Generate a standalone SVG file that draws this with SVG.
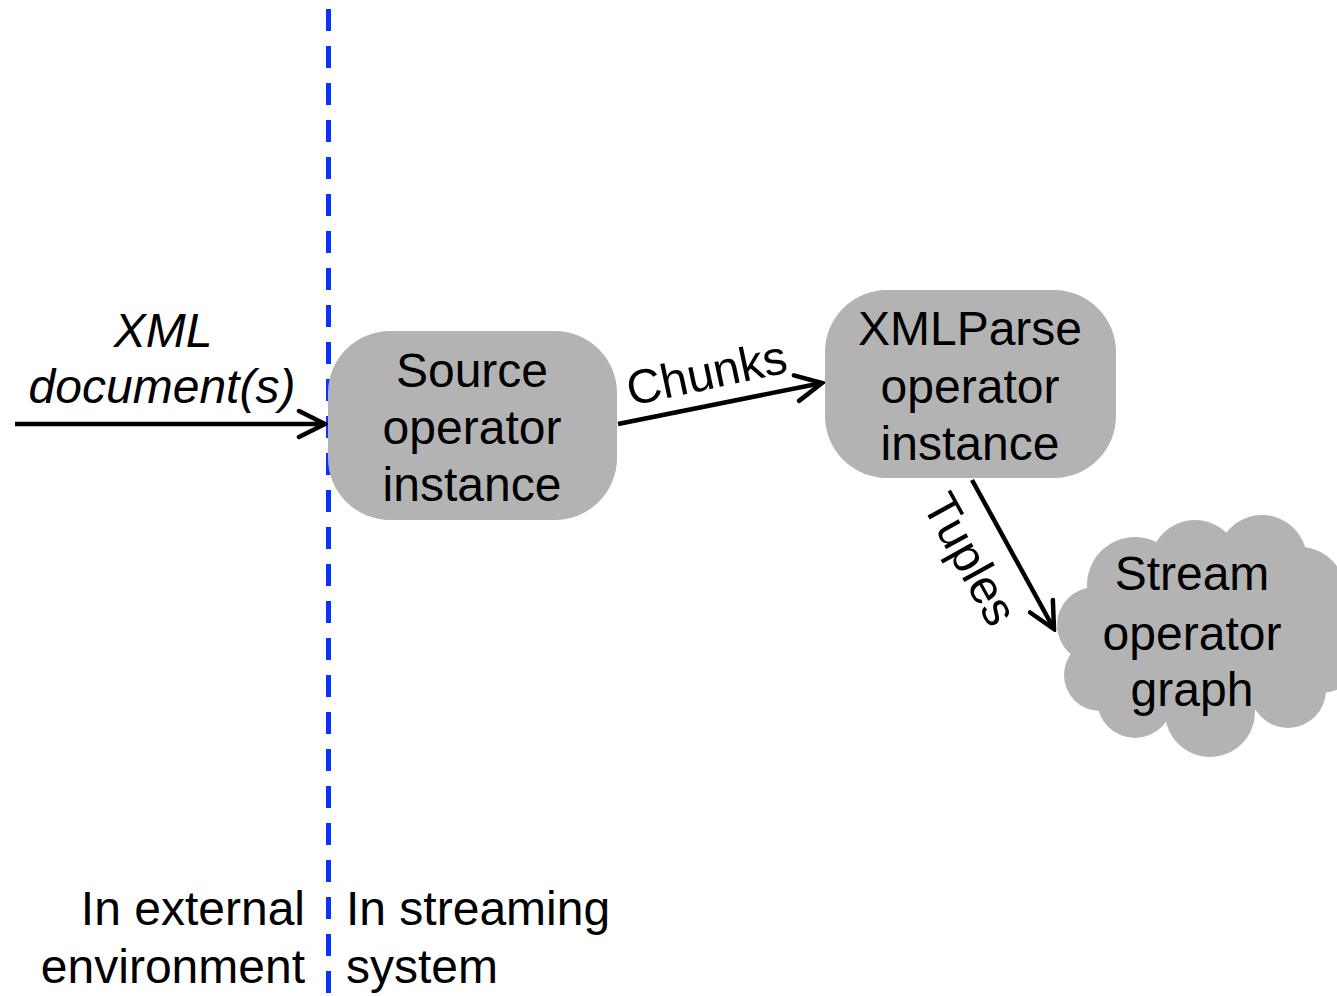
<svg xmlns="http://www.w3.org/2000/svg" width="1337" height="996" viewBox="0 0 1337 996">
  <style>
    .box { fill: #b3b3b3; }
    .lbl { font-family: "Liberation Sans", Arial, sans-serif; font-size: 48px; fill: #000; text-anchor: middle; }
    .it { font-style: italic; }
    .edge { stroke: #000; stroke-width: 4.5; fill: none; marker-end: url(#arrow); }
  </style>
  <defs>
    <marker id="arrow" viewBox="0 0 32 32" refX="29" refY="16" markerWidth="32" markerHeight="32" markerUnits="userSpaceOnUse" orient="auto">
      <path d="M3,3 L29,16 L3,29" fill="none" stroke="#000" stroke-width="4.5" stroke-linecap="round" stroke-linejoin="miter"/>
    </marker>
  </defs>

  <!-- boundary between environment and streaming system -->
  <line id="boundary" x1="328.5" y1="9" x2="328.5" y2="996" stroke="#0a32ff" stroke-width="5" stroke-dasharray="22 15"/>

  <g id="source">
    <rect class="box" x="328" y="331" width="289" height="189" rx="62" ry="62"/>
    <text class="lbl" x="472" y="387">Source</text>
    <text class="lbl" x="472" y="444">operator</text>
    <text class="lbl" x="472" y="501">instance</text>
  </g>

  <g id="xmlparse">
    <rect class="box" x="825" y="290" width="291" height="188" rx="62" ry="62"/>
    <text class="lbl" x="970" y="345">XMLParse</text>
    <text class="lbl" x="970" y="403">operator</text>
    <text class="lbl" x="970" y="460">instance</text>
  </g>

  <g id="graph">
    <g class="box">
      <circle cx="1135" cy="585" r="48"/>
      <circle cx="1195" cy="565" r="45"/>
      <circle cx="1262" cy="560" r="45"/>
      <circle cx="1300" cy="592" r="45"/>
      <circle cx="1320" cy="648" r="45"/>
      <circle cx="1288" cy="690" r="38"/>
      <circle cx="1210" cy="712" r="45"/>
      <circle cx="1135" cy="700" r="38"/>
      <circle cx="1100" cy="675" r="36"/>
      <circle cx="1095" cy="625" r="38"/>
      <rect x="1105" y="560" width="210" height="150"/>
    </g>
    <text class="lbl" x="1192" y="590">Stream</text>
    <text class="lbl" x="1192" y="650">operator</text>
    <text class="lbl" x="1192" y="706">graph</text>
  </g>

  <g id="connectors">
    <line class="edge" x1="15" y1="424" x2="325" y2="424"/>
    <line class="edge" x1="618" y1="424" x2="822" y2="383"/>
    <line class="edge" x1="972" y1="480" x2="1054" y2="629"/>
  </g>

  <g id="labels">
    <text class="lbl it" x="163" y="347">XML</text>
    <text class="lbl it" x="162" y="403">document(s)</text>
    <text class="lbl" transform="translate(710,389) rotate(-12)">Chunks</text>
    <text class="lbl" transform="translate(956,567) rotate(61)">Tuples</text>
    <text class="lbl" x="305" y="925" style="text-anchor:end">In external</text>
    <text class="lbl" x="305" y="983" style="text-anchor:end">environment</text>
    <text class="lbl" x="346" y="925" style="text-anchor:start">In streaming</text>
    <text class="lbl" x="346" y="983" style="text-anchor:start">system</text>
  </g>
</svg>
